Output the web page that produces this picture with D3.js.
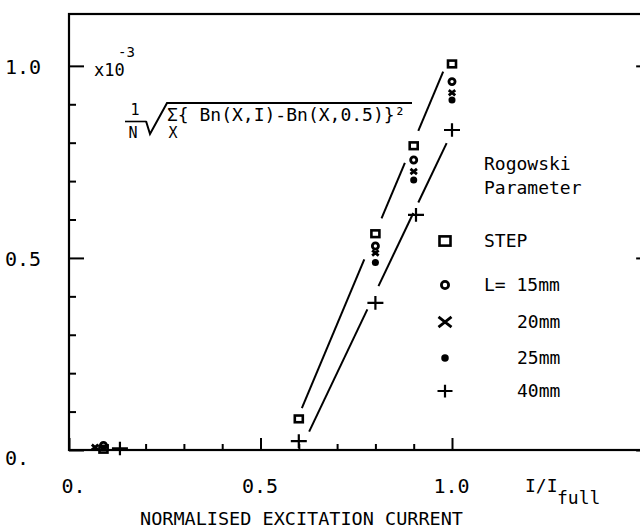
<!DOCTYPE html>
<html>
<head>
<meta charset="utf-8">
<script src="https://cdn.jsdelivr.net/npm/d3@7"></script>
<style>
  body { margin: 0; background: #fff; }
  text { font-family: "DejaVu Sans Mono", monospace; fill: #000; }
</style>
</head>
<body>
<div id="content"></div>
<script>
let width = 640;
let height = 530;

// Values (x = I/Ifull, y in units of 1e-3)
let stepX = [0.09, 0.6, 0.8, 0.9, 1.0];
let stepY = [0.002, 0.081, 0.563, 0.792, 1.005];
let l15X = [0.09, 0.8, 0.9, 1.0];
let l15Y = [0.012, 0.531, 0.755, 0.959];
let l20X = [0.068, 0.8, 0.9, 1.0];
let l20Y = [0.007, 0.513, 0.725, 0.930];
let l25X = [0.8, 0.9, 1.0];
let l25Y = [0.488, 0.703, 0.911];
let l40X = [0.133, 0.6, 0.8, 0.906, 1.0];
let l40Y = [0.004, 0.023, 0.383, 0.612, 0.833];

// hand drawn fit lines: end points and the gaps left around the point clusters
let upperFitX = [0.608, 0.977];
let upperFitY = [0.109, 0.985];
let upperGaps = [[0.771, 0.816], [0.877, 0.912]];
let lowerFitX = [0.627, 0.986];
let lowerFitY = [0.048, 0.799];
let lowerGaps = [[0.779, 0.808], [0.899, 0.912]];

// axis ticks and labels
let minorTicks = [0.1, 0.2, 0.3, 0.4, 0.6, 0.7, 0.8, 0.9];
let majorTicks = [0, 0.5, 1.0];
let xLabels = ["0.", "0.5", "1.0"];
let yLabels = ["0.", "0.5", "1.0"];

let legendNames = ["STEP", "L= 15mm", "20mm", "25mm", "40mm"];
let legendTypes = ["square", "circle", "cross", "dot", "plus"];

let svg = d3.select("#content")
    .append("svg")
    .attr("width", width)
    .attr("height", height);

let x = d3.scaleLinear().domain([0, 1.5]).range([69, 643.5]);
let y = d3.scaleLinear().domain([0, 1.135]).range([450, 14]);

// frame (right side falls just outside the page)
svg.append("rect")
    .attr("x", x(0)).attr("y", y(1.135))
    .attr("width", x(1.52) - x(0)).attr("height", y(0) - y(1.135))
    .attr("fill", "none").attr("stroke", "#000").attr("stroke-width", 2.2);

function styleAxis(g) {
    g.select(".domain").remove();
    g.selectAll("line").attr("stroke", "#000").attr("stroke-width", 2);
}

// bottom axis, ticks pointing up
svg.append("g")
    .attr("transform", "translate(0," + y(0) + ")")
    .call(d3.axisBottom(x).tickValues(minorTicks).tickSize(-6).tickFormat(""))
    .call(styleAxis);

let xMajor = svg.append("g")
    .attr("transform", "translate(0," + y(0) + ")")
    .call(d3.axisBottom(x).tickValues(majorTicks).tickSize(-12)
        .tickFormat((d, i) => xLabels[i]))
    .call(styleAxis);
xMajor.selectAll("text")
    .attr("y", 43).attr("dy", null)
    .attr("font-size", 20)
    .attr("font-family", null)
    .attr("text-anchor", (d, i) => i == 0 ? "start" : "middle")
    .attr("x", (d, i) => i == 0 ? -8 : -1);

// left axis, ticks pointing right
svg.append("g")
    .attr("transform", "translate(" + x(0) + ",0)")
    .call(d3.axisLeft(y).tickValues(minorTicks).tickSize(-7).tickFormat(""))
    .call(styleAxis);

let yMajor = svg.append("g")
    .attr("transform", "translate(" + x(0) + ",0)")
    .call(d3.axisLeft(y).tickValues(majorTicks).tickSize(-15)
        .tickFormat((d, i) => yLabels[i]))
    .call(styleAxis);
yMajor.selectAll("text")
    .attr("x", -64).attr("dy", (d, i) => i == 0 ? ".72em" : ".36em")
    .attr("font-size", 20)
    .attr("font-family", null)
    .attr("text-anchor", "start");

// right axis, only the long ticks reach into the page
svg.append("g")
    .attr("transform", "translate(" + x(1.52) + ",0)")
    .call(d3.axisRight(y).tickValues(majorTicks).tickSize(-15).tickFormat(""))
    .call(styleAxis);

// fit lines with gaps
function drawFit(fx, fy, gaps) {
    let slope = (fy[1] - fy[0]) / (fx[1] - fx[0]);
    let at = v => fy[0] + (v - fx[0]) * slope;
    let stops = [fx[0]];
    gaps.forEach(g => { stops.push(g[0]); stops.push(g[1]); });
    stops.push(fx[1]);
    for (let i = 0; i < stops.length; i += 2) {
        svg.append("line")
            .attr("x1", x(stops[i])).attr("y1", y(at(stops[i])))
            .attr("x2", x(stops[i + 1])).attr("y2", y(at(stops[i + 1])))
            .attr("stroke", "#000").attr("stroke-width", 2);
    }
}
drawFit(upperFitX, upperFitY, upperGaps);
drawFit(lowerFitX, lowerFitY, lowerGaps);

// marker shapes
function marker(g, type, s) {
    if (type == "square") {
        g.append("rect").attr("x", -s / 2).attr("y", -s * 0.42)
            .attr("width", s).attr("height", s * 0.84)
            .attr("fill", "none").attr("stroke", "#000").attr("stroke-width", 2.6);
    } else if (type == "circle") {
        g.append("circle").attr("r", s * 0.36)
            .attr("fill", "none").attr("stroke", "#000").attr("stroke-width", 2.8);
    } else if (type == "cross") {
        let h = s / 2;
        g.append("path").attr("d", `M${-h},${-h * 0.8}L${h},${h * 0.8}M${-h},${h * 0.8}L${h},${-h * 0.8}`)
            .attr("stroke", "#000").attr("stroke-width", 2.8);
    } else if (type == "dot") {
        g.append("circle").attr("r", s * 0.47).attr("fill", "#000");
    } else if (type == "plus") {
        let h = s / 2;
        g.append("path").attr("d", `M${-h},0L${h},0M0,${-h * 0.85}L0,${h * 0.85}`)
            .attr("stroke", "#000").attr("stroke-width", 2.2);
    }
}

let series = [
    {type: "square", xs: stepX, ys: stepY, size: 8},
    {type: "circle", xs: l15X, ys: l15Y, size: 8.5},
    {type: "cross", xs: l20X, ys: l20Y, size: 6.5},
    {type: "dot", xs: l25X, ys: l25Y, size: 7.5},
    {type: "plus", xs: l40X, ys: l40Y, size: 16}
];

series.forEach(function(s) {
    svg.selectAll(".pt-" + s.type)
        .data(s.xs.map((v, i) => [v, s.ys[i]]))
        .enter()
        .append("g")
        .attr("class", "pt-" + s.type)
        .attr("transform", d => "translate(" + x(d[0]) + "," + y(d[1]) + ")")
        .each(function() { marker(d3.select(this), s.type, s.size); });
});

// legend
svg.append("text").attr("x", 484).attr("y", 170).attr("font-size", 18).text("Rogowski");
svg.append("text").attr("x", 484).attr("y", 194).attr("font-size", 18).text("Parameter");

let legendY = [241, 285, 322, 358, 391];
let legendSize = [11, 10, 13, 8, 15];
legendTypes.forEach(function(t, i) {
    let g = svg.append("g").attr("transform", "translate(445," + legendY[i] + ")");
    marker(g, t, legendSize[i]);
    svg.append("text")
        .attr("x", i < 2 ? 484 : 517)
        .attr("y", legendY[i] + 6)
        .attr("font-size", 18)
        .attr("xml:space", "preserve")
        .text(legendNames[i]);
});

// formula
svg.append("text").attr("x", 94).attr("y", 76).attr("font-size", 17).text("x10");
svg.append("text").attr("x", 118).attr("y", 57).attr("font-size", 14).text("-3");

svg.append("text").attr("x", 135).attr("y", 115).attr("font-size", 15).attr("text-anchor", "middle").text("1");
svg.append("line").attr("x1", 125).attr("x2", 146).attr("y1", 121.5).attr("y2", 121.5)
    .attr("stroke", "#000").attr("stroke-width", 1.6);
svg.append("text").attr("x", 133).attr("y", 138).attr("font-size", 15).attr("text-anchor", "middle").text("N");
svg.append("path").attr("d", "M146,121L150,134L167,103L412,103")
    .attr("fill", "none").attr("stroke", "#000").attr("stroke-width", 2);
svg.append("text").attr("x", 167).attr("y", 121).attr("font-size", 18)
    .attr("xml:space", "preserve").text("Σ{ Bn(X,I)-Bn(X,0.5)}²");
svg.append("text").attr("x", 173).attr("y", 138).attr("font-size", 15).attr("text-anchor", "middle").text("X");

// axis titles
svg.append("text").attr("x", 525).attr("y", 492).attr("font-size", 18).text("I/I");
svg.append("text").attr("x", 557).attr("y", 504).attr("font-size", 18).text("full");
svg.append("text").attr("x", 140).attr("y", 525).attr("font-size", 18.5)
    .text("NORMALISED EXCITATION CURRENT");
</script>
</body>
</html>
